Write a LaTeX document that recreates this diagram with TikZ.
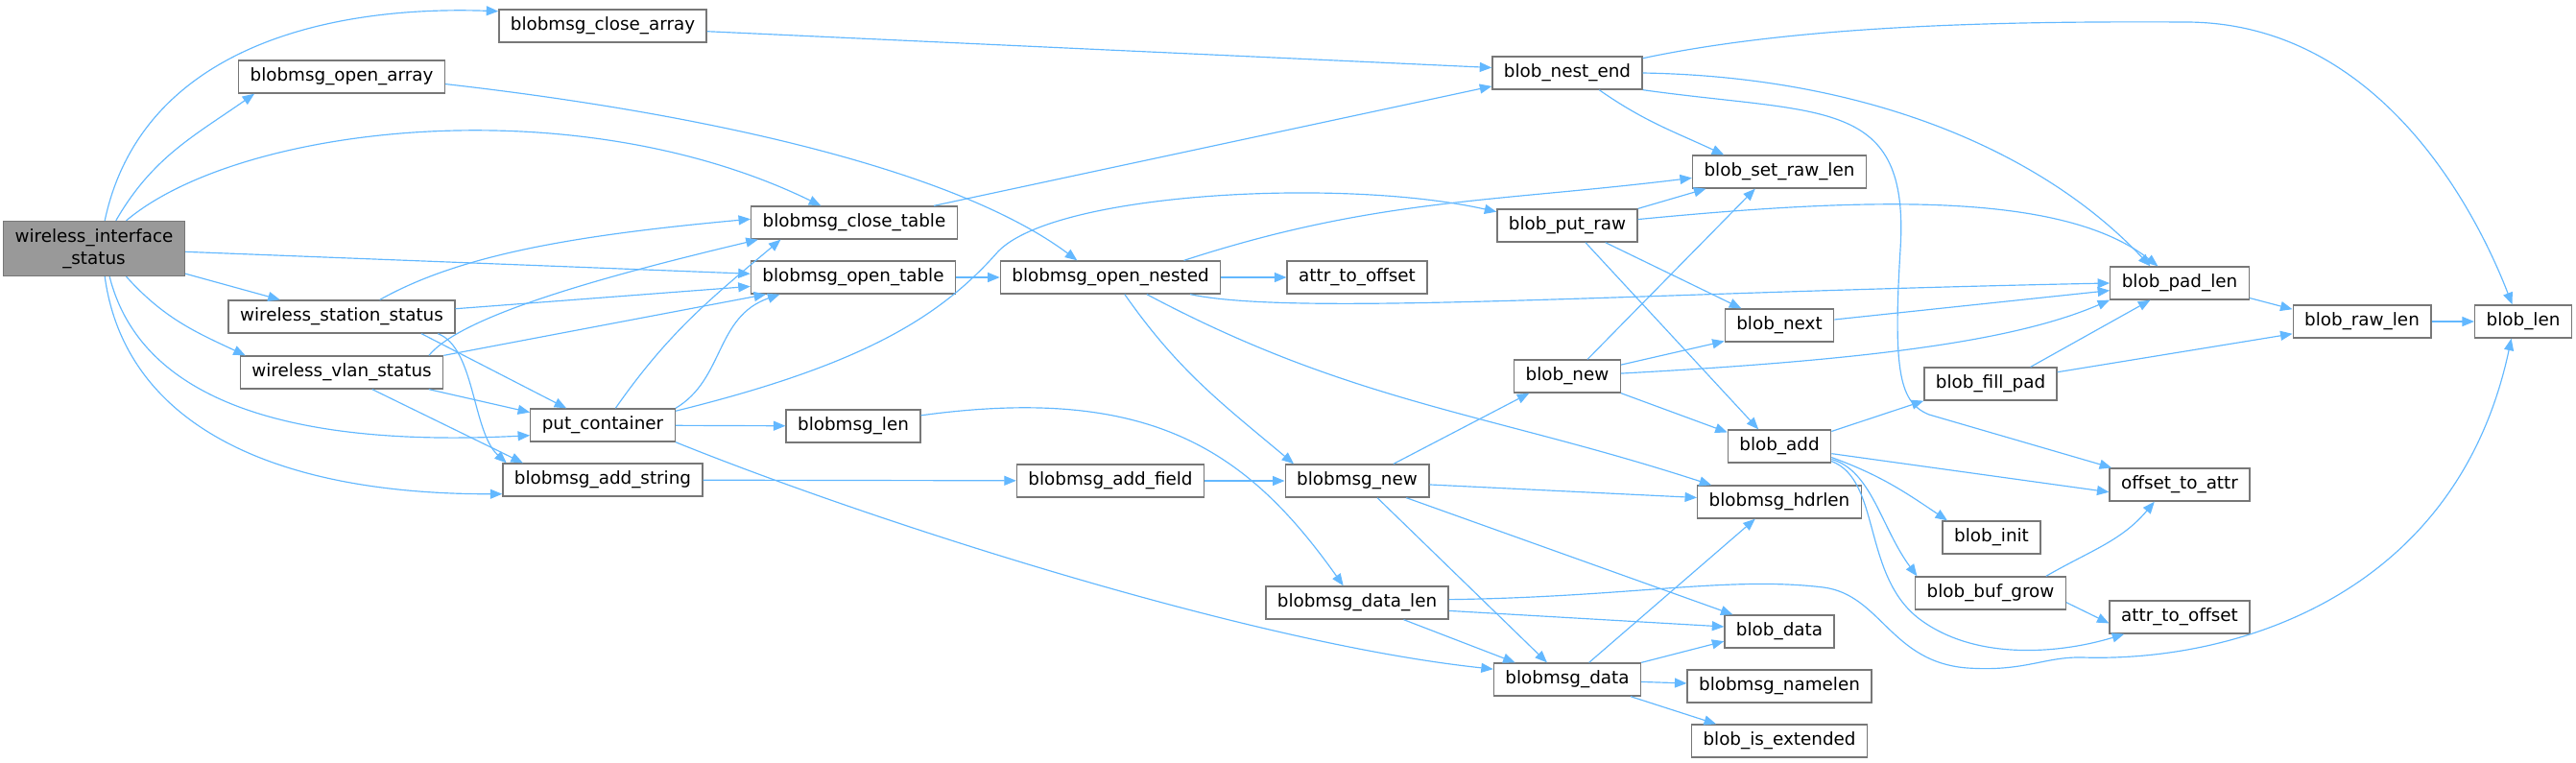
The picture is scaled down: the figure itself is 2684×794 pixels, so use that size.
\documentclass[tikz,border=0pt]{standalone}
\usepackage{fontspec}
\setmainfont{DejaVu Sans}
\usepackage{xcolor}
\usetikzlibrary{arrows.meta}
\definecolor{edgeblue}{HTML}{63B8FF}
\definecolor{boxgray}{HTML}{777777}
\definecolor{rootfill}{HTML}{999999}

\begin{document}
\begin{tikzpicture}[x=0.6pt, y=-0.6pt,
    fn/.style={draw=boxgray, fill=white, line width=0.8pt, minimum height=20.4pt,
        inner xsep=7.2pt, inner ysep=0pt, font=\fontsize{11}{13.8}\selectfont},
    root/.style={fn, fill=rootfill, align=center, minimum height=34.2pt},
    call/.style={draw=edgeblue, line width=0.7pt, -{Triangle[length=7.5pt,width=6pt]}}]
    \useasboundingbox (0,0) rectangle (2684,794);

    % Functions, column by column
    \node[root] (wis) at (98,259) {wireless\_interface\\\_status};
    \node[fn] (cla) at (628,27) {blobmsg\_close\_array};
    \node[fn] (opa) at (356,80) {blobmsg\_open\_array};
    \node[fn] (wss) at (356,330) {wireless\_station\_status};
    \node[fn] (wvs) at (356,388) {wireless\_vlan\_status};
    \node[fn] (pc) at (628,443) {put\_container};
    \node[fn] (adds) at (628,500) {blobmsg\_add\_string};
    \node[fn] (clt) at (890,232) {blobmsg\_close\_table};
    \node[fn] (opt) at (889,289) {blobmsg\_open\_table};
    \node[fn] (bml) at (889,444) {blobmsg\_len};
    \node[fn] (onest) at (1157,289) {blobmsg\_open\_nested};
    \node[fn] (addf) at (1157,501) {blobmsg\_add\_field};
    \node[fn] (ato1) at (1414,289) {attr\_to\_offset};
    \node[fn] (bmn) at (1414,501) {blobmsg\_new};
    \node[fn] (bdl) at (1414,628) {blobmsg\_data\_len};
    \node[fn] (nest) at (1633,76) {blob\_nest\_end};
    \node[fn] (praw) at (1633,235) {blob\_put\_raw};
    \node[fn] (bnew) at (1633,392) {blob\_new};
    \node[fn] (bmd) at (1633,708) {blobmsg\_data};
    \node[fn] (srl) at (1854,179) {blob\_set\_raw\_len};
    \node[fn] (bnext) at (1854,339) {blob\_next};
    \node[fn] (badd) at (1854,465) {blob\_add};
    \node[fn] (hdr) at (1854,523) {blobmsg\_hdrlen};
    \node[fn] (bdata) at (1854,658) {blob\_data};
    \node[fn] (nlen) at (1854,715) {blobmsg\_namelen};
    \node[fn] (isext) at (1854,772) {blob\_is\_extended};
    \node[fn] (fpad) at (2074,400) {blob\_fill\_pad};
    \node[fn] (binit) at (2075,560) {blob\_init};
    \node[fn] (grow) at (2074,618) {blob\_buf\_grow};
    \node[fn] (padl) at (2271,295) {blob\_pad\_len};
    \node[fn] (ota) at (2271,505) {offset\_to\_attr};
    \node[fn] (ato2) at (2271,643) {attr\_to\_offset};
    \node[fn] (rawl) at (2461,335) {blob\_raw\_len};
    \node[fn] (blen) at (2629,335) {blob\_len};

    % Calls of wireless_interface_status
    \draw[call] (wis.69) to[out=78,in=178] (cla.172);
    \draw[call] (wis.52) to[out=60,in=-145] (opa.191);
    \draw[call] (wis.41) .. controls (250,130) and (600,90) .. (clt.153);
    \draw[call] (wis.-2) -- (opt.178);
    \draw[call] (wis) -- (wss);
    \draw[call] (wis.-41) to[out=-48,in=155] (wvs.170);
    \draw[call] (wis.-61) .. controls (150,430) and (330,465) .. (pc.188);
    \draw[call] (wis.-69) .. controls (130,440) and (280,515) .. (adds.188);

    % Calls of the station and vlan status
    \draw[call] (wss.24) .. controls (480,265) and (600,245) .. (clt.178);
    \draw[call] (wss.4) -- (opt.185);
    \draw[call] (wss.-12) -- (pc.155);
    \draw[call] (wss.-10) .. controls (495,362) and (492,450) .. (adds.170);
    \draw[call] (wvs.11) .. controls (480,330) and (620,290) .. (clt.190);
    \draw[call] (wvs.north east) -- (opt.191);
    \draw[call] (wvs.-11) -- (pc.170);
    \draw[call] (wvs.-29) -- (adds.168);

    % Calls of put_container
    \draw[call] (pc.53) to[out=55,in=-140] (clt.193);
    \draw[call] (pc.north east) .. controls (755,395) and (745,330) .. (opt.193);
    \draw[call] (pc.11) .. controls (900,380) and (980,330) .. (1040,262)
        .. controls (1100,200) and (1400,185) .. (praw.169);
    \draw[call] (pc) -- (bml);
    \draw[call] (pc.south east) .. controls (900,540) and (1300,670) .. (bmd.172);

    % Second column
    \draw[call] (opa.-4) .. controls (750,120) and (1000,180) .. (onest.153);
    \draw[call] (cla.-3) -- (nest.176);
    \draw[call] (clt.12) -- (nest.190);
    \draw[call] (opt) -- (onest);
    \draw[call] (adds) -- (addf);
    \draw[call] (bml.9) .. controls (1200,400) and (1300,470) .. (bdl.129);
    \draw[call] (addf) -- (bmn);

    % Calls of blobmsg_open_nested
    \draw[call] (onest.13) to[out=18,in=187] (srl.184);
    \draw[call] (onest) -- (ato1);
    \draw[call] (onest.-12) .. controls (1350,330) and (1700,305) .. (padl.west);
    \draw[call] (onest.-50) to[out=-55,in=140] (bmn.165);
    \draw[call] (onest.-25) to[out=-28,in=162] (hdr.166);

    % Calls of blob_nest_end
    \draw[call] (nest.11) .. controls (1880,25) and (2100,22) .. (2280,23)
        .. controls (2480,25) and (2580,220) .. (blen.123);
    \draw[call] (nest.east) .. controls (1950,80) and (2130,160) .. (padl.150);
    \draw[call] (nest.south east) .. controls (1900,120) and (1990,100) .. (1980,260)
        .. controls (1972,390) and (1980,420) .. (2010,432) -- (ota.166);
    \draw[call] (nest.-28) to[out=-35,in=155] (srl.163);

    % Calls of blob_put_raw and blob_new
    \draw[call] (praw.north east) -- (srl.193);
    \draw[call] (praw.5) .. controls (1950,205) and (2150,200) .. (padl.142);
    \draw[call] (praw.-24) -- (bnext.156);
    \draw[call] (praw.-43) -- (badd.141);
    \draw[call] (bnew.40) -- (srl.-145);
    \draw[call] (bnew.12) -- (bnext.196);
    \draw[call] (bnew.3) .. controls (1950,375) and (2100,355) .. (padl.south west);
    \draw[call] (bnew.south east) -- (badd.165);
    \draw[call] (bnext.6) -- (padl.186);

    % Calls of blobmsg_new
    \draw[call] (bmn.25) -- (bnew.-156);
    \draw[call] (bmn.-3) -- (hdr.177);
    \draw[call] (bmn.-40) -- (bmd.140);
    \draw[call] (bmn.-19) -- (bdata.160);

    % Calls of blobmsg_data_len and blobmsg_data
    \draw[call] (bdl.2) .. controls (1700,622) and (1800,600) .. (1900,612)
        .. controls (1960,620) and (1970,690) .. (2050,696)
        .. controls (2110,700) and (2130,684) .. (2170,685)
        .. controls (2330,690) and (2560,620) .. (blen.-125);
    \draw[call] (bdl.-5) -- (bdata.175);
    \draw[call] (bdl.-20) -- (bmd.162);
    \draw[call] (bmd.38) -- (hdr.-145);
    \draw[call] (bmd.north east) -- (bdata.190);
    \draw[call] (bmd) -- (nlen);
    \draw[call] (bmd.-15) -- (isext.165);

    % Calls of blob_add
    \draw[call] (badd.16) -- (fpad.south west);
    \draw[call] (badd.-8) -- (ota.186);
    \draw[call] (badd.-12) to[out=-20,in=146] (binit.159);
    \draw[call] (badd.-14) .. controls (1950,490) and (1960,550) .. (grow.167);
    \draw[call] (badd.-16) .. controls (1960,500) and (1940,600) .. (2000,645)
        .. controls (2060,690) and (2150,680) .. (ato2.-163);

    % Right end
    \draw[call] (fpad.23) -- (padl.-150);
    \draw[call] (fpad.10) -- (rawl.190);
    \draw[call] (padl.-12) -- (rawl.170);
    \draw[call] (rawl) -- (blen);
    \draw[call] (grow.17) to[out=30,in=-130] (ota.-146);
    \draw[call] (grow.-7) -- (ato2.185);
\end{tikzpicture}
\end{document}
